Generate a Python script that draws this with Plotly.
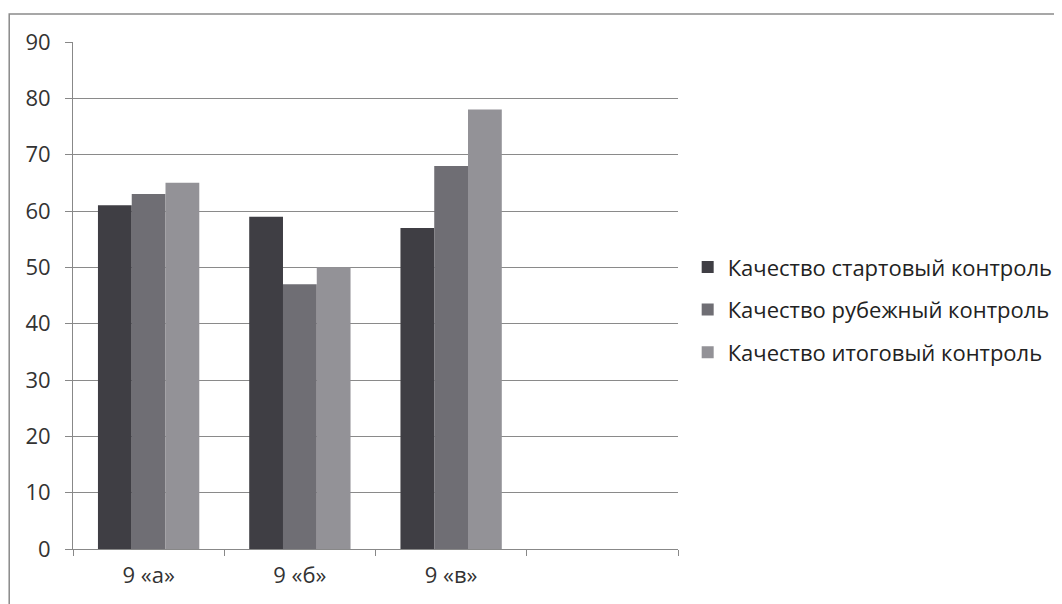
import plotly.graph_objects as go

categories = ["9 «а»", "9 «б»", "9 «в»"]
slot_labels = categories + [" "]
series_names = ["Качество стартовый контроль", "Качество рубежный контроль", "Качество итоговый контроль"]
start_vals = [61, 59, 57]
mid_vals = [63, 47, 68]
final_vals = [65, 50, 78]
colors = ["#3f3e44", "#6f6e74", "#939297"]
y_ticks = list(range(0, 91, 10))

FONT = "Open Sans"
PW, PH = 607, 507
L, T = 65, 34

fig = go.Figure()
for i, (name, vals) in enumerate(zip(series_names, [start_vals, mid_vals, final_vals])):
    fig.add_trace(go.Bar(
        x=categories, y=vals, name=name, marker_color=colors[i],
        marker_line_width=0, legendgroup=f"g{i}",
    ))

fig.update_layout(
    width=1062, height=604,
    margin=dict(l=L, r=1062 - L - PW, t=T, b=604 - T - PH),
    paper_bgcolor="white", plot_bgcolor="white",
    barmode="group", bargap=0.33, bargroupgap=0,
    font=dict(family=FONT, size=22, color="#333333"),
    showlegend=True,
    legend=dict(
        x=1.016, y=0.472, xanchor="left", yanchor="middle",
        font=dict(family=FONT, size=22, color="#222222"),
        tracegroupgap=11, itemwidth=30, traceorder="grouped",
        bgcolor="rgba(0,0,0,0)",
    ),
    xaxis=dict(
        type="category", categoryorder="array", categoryarray=slot_labels,
        range=[-0.5, 3.5], tickson="boundaries", ticks="outside", ticklen=6,
        tickcolor="#888888", showline=True, linecolor="#888888", linewidth=1,
        showgrid=False, zeroline=False, ticklabelstandoff=7,
        tickfont=dict(family=FONT, size=22, color="#333333"),
    ),
    yaxis=dict(
        range=[0, 90], tickvals=y_ticks, ticks="outside", ticklen=7,
        tickcolor="#888888", showline=True, linecolor="#888888", linewidth=1,
        showgrid=True, gridcolor="#8a8a8a", gridwidth=1, zeroline=False,
        ticklabelstandoff=10,
        tickfont=dict(family=FONT, size=22, color="#333333"),
    ),
    shapes=[dict(
        type="rect", xref="paper", yref="paper",
        x0=-64 / PW, x1=(1075 - 73) / PW, y0=-70 / PH, y1=(549 - 14) / PH,
        line=dict(color="#8a8a8a", width=1.5), fillcolor="rgba(0,0,0,0)",
    )],
)

fig.write_html("out.html")
